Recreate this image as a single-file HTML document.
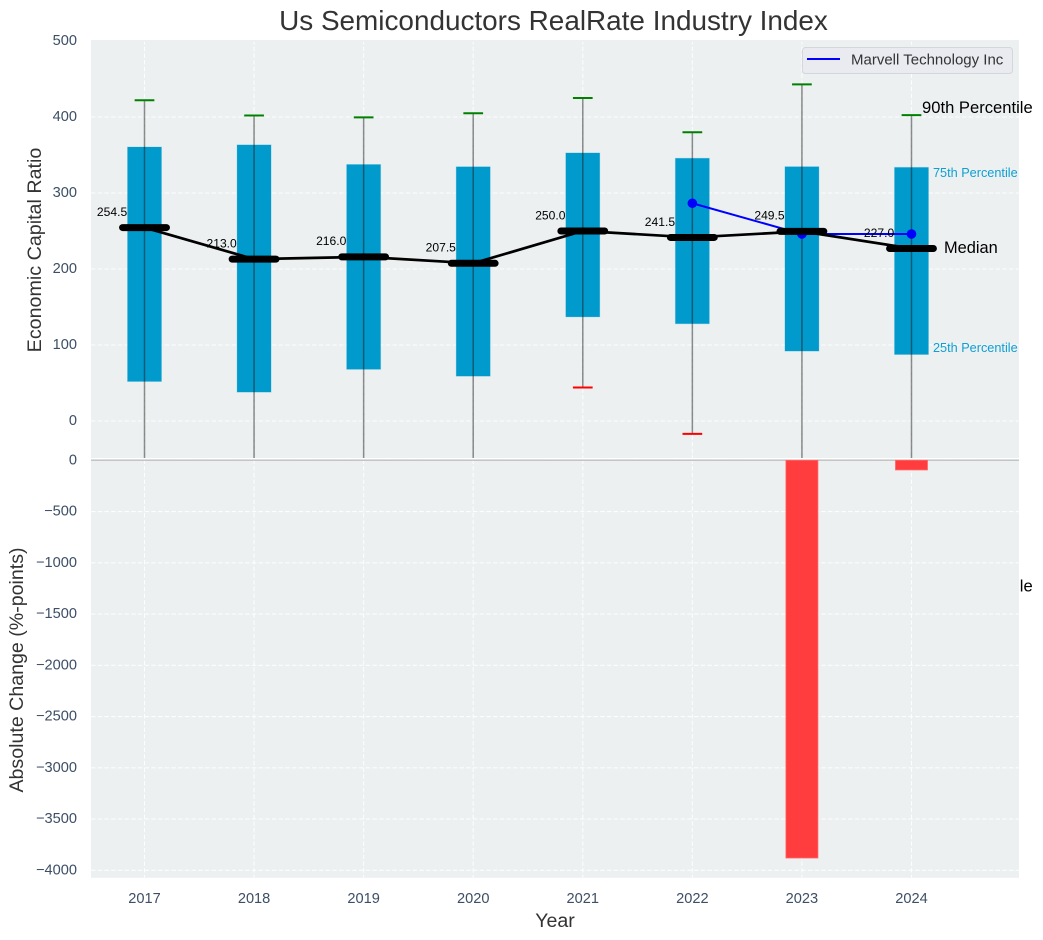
<!DOCTYPE html>
<html lang="en">
<head>
<meta charset="utf-8">
<title>Us Semiconductors RealRate Industry Index</title>
<style>
html,body{margin:0;padding:0;background:#fff;width:1043px;height:940px;overflow:hidden}
svg{display:block;font-family:"Liberation Sans",Arial,sans-serif}
</style>
</head>
<body>
<svg id="chart" xmlns="http://www.w3.org/2000/svg" width="1043" height="940" viewBox="0 0 1043 940">
  <defs>
    <clipPath id="top-clip"><rect x="91" y="40" width="928" height="418"></rect></clipPath>
    <clipPath id="top-grid-clip"><rect x="91" y="41.9" width="928" height="416.1"></rect></clipPath>
    <clipPath id="bottom-clip"><rect x="91" y="459.4" width="928" height="418.4"></rect></clipPath>
  </defs>
  <text x="553.5" y="30" text-anchor="middle" font-size="27.9" fill="#333333">Us Semiconductors RealRate Industry Index</text>
  <text x="922" y="586" dominant-baseline="central" font-size="16.6" fill="#000000">10th Percentile</text>
  <rect x="91" y="40" width="928" height="418" fill="#ecf0f1"></rect>
  <rect x="91" y="459.4" width="928" height="418.4" fill="#ecf0f1"></rect>
  <g id="top-grid" clip-path="url(#top-grid-clip)"></g>
  <g id="bottom-grid" clip-path="url(#bottom-clip)"></g>
  <line x1="91" x2="1019" y1="460.2" y2="460.2" stroke="#bcbebf" stroke-width="1.3"></line>
  <g id="bars" clip-path="url(#top-clip)"></g>
  <g id="whiskers" clip-path="url(#top-clip)"></g>
  <g id="company" clip-path="url(#top-clip)"></g>
  <g id="medians" clip-path="url(#top-clip)"></g>
  <g id="change" clip-path="url(#bottom-clip)"></g>
  <g id="value-labels"></g>
  <g id="axis-labels" font-size="14.6" fill="#3d4f66"></g>
  <text transform="translate(35 250) rotate(-90)" text-anchor="middle" dominant-baseline="central" font-size="19.7" fill="#333333">Economic Capital Ratio</text>
  <text transform="translate(17 670) rotate(-90)" text-anchor="middle" dominant-baseline="central" font-size="19.6" fill="#333333">Absolute Change (%-points)</text>
  <text x="555" y="921" text-anchor="middle" dominant-baseline="central" font-size="19.6" fill="#333333">Year</text>
  <g>
    <rect x="802.5" y="47.5" width="210" height="26" rx="3" fill="#e9ebf1" stroke="#d4d6da" stroke-width="1"></rect>
    <line x1="807" x2="840" y1="59" y2="59" stroke="#0000ff" stroke-width="2"></line>
    <text x="851" y="60" dominant-baseline="central" font-size="15" fill="#333333">Marvell Technology Inc</text>
  </g>
  <text x="922" y="107.5" dominant-baseline="central" font-size="16.6" fill="#000000">90th Percentile</text>
  <text x="944" y="248" dominant-baseline="central" font-size="16.4" fill="#000000">Median</text>
  <text x="933" y="173" dominant-baseline="central" font-size="12.7" fill="#0f9fd2">75th Percentile</text>
  <text x="933" y="348" dominant-baseline="central" font-size="12.7" fill="#0f9fd2">25th Percentile</text>
</svg>
<script>
const years = [2017, 2018, 2019, 2020, 2021, 2022, 2023, 2024];
const p90 = [422, 402, 399.5, 405, 425, 380, 443, 402.5];
const p75 = [360.5, 363.3, 337.5, 334.5, 352.7, 345.7, 334.6, 333.7];
const medianValues = [254.5, 213.0, 216.0, 207.5, 250.0, 241.5, 249.5, 227.0];
const p25 = [52, 38, 68, 59, 137, 128, 92, 87.5];
const p10 = [-70, -70, -70, -70, 44, -17, -70, -70];
const marvell = [null, null, null, null, null, 286.5, 246, 246];
const absoluteChange = [null, null, null, null, null, null, -3880, -94];
const topTicks = [500, 400, 300, 200, 100, 0];
const bottomTicks = [0, -500, -1000, -1500, -2000, -2500, -3000, -3500, -4000];

const NS = 'http://www.w3.org/2000/svg';
const xScale = function (year) { return 144.5 + (year - 2017) * 109.57; };
const xSpan = function (units) { return units * 109.57; };
const yTop = function (v) { return 421 - v * 0.76; };
const yBottom = function (v) { return 460.3 - v * 0.1025; };

function make(tag, parentId, attrs, text) {
  const el = document.createElementNS(NS, tag);
  Object.keys(attrs).forEach(function (k) { el.setAttribute(k, attrs[k]); });
  if (text !== undefined) { el.textContent = text; }
  document.getElementById(parentId).appendChild(el);
  return el;
}
const gridStyle = { stroke: '#ffffff', 'stroke-width': 1.1, 'stroke-dasharray': '4.5 2.2', 'stroke-opacity': 0.85 };

topTicks.forEach(function (t) {
  const grid = make('line', 'top-grid', Object.assign({ x1: 91, x2: 1019, y1: yTop(t), y2: yTop(t) }, gridStyle));
  
  
  const label = make('text', 'axis-labels', { x: 77, y: yTop(t), 'text-anchor': 'end', 'dominant-baseline': 'central' }, String(t));
  
  
});
bottomTicks.forEach(function (t) {
  const grid = make('line', 'bottom-grid', Object.assign({ x1: 91, x2: 1019, y1: yBottom(t), y2: yBottom(t) }, gridStyle));
  
  
  const label = make('text', 'axis-labels', { x: 77, y: yBottom(t), 'text-anchor': 'end', 'dominant-baseline': 'central' }, String(t).replace('-', '\u2212'));
  
  
});

years.forEach(function (year, i) {
  const x = xScale(year);
  const gridTop = make('line', 'top-grid', Object.assign({ x1: x, x2: x, y1: 40, y2: 458 }, gridStyle));
  
  
  const gridBottom = make('line', 'bottom-grid', Object.assign({ x1: x, x2: x, y1: 459.4, y2: 877.8 }, gridStyle));
  
  
  const tick = make('text', 'axis-labels', { x: x, y: 899, 'text-anchor': 'middle', 'dominant-baseline': 'central' }, String(year));
  
  

  const halfBox = xSpan(0.155);
  const box = make('rect', 'bars', {
    x: x - halfBox, y: yTop(p75[i]), width: halfBox * 2, height: yTop(p25[i]) - yTop(p75[i]),
    fill: '#009acd', stroke: '#009acd', 'stroke-opacity': 0.2, 'stroke-width': 1
  });
  
  

  const whisker = make('line', 'whiskers', { x1: x, x2: x, y1: yTop(p90[i]), y2: yTop(p10[i]), stroke: '#1b1b1b', 'stroke-opacity': 0.5, 'stroke-width': 1.5 });
  
  
  const capHigh = make('line', 'whiskers', { x1: x - xSpan(0.09), x2: x + xSpan(0.09), y1: yTop(p90[i]), y2: yTop(p90[i]), stroke: '#008000', 'stroke-width': 2 });
  
  
  const capLow = make('line', 'whiskers', { x1: x - xSpan(0.09), x2: x + xSpan(0.09), y1: yTop(p10[i]), y2: yTop(p10[i]), stroke: '#ff0000', 'stroke-width': 2 });
  
  

  if (absoluteChange[i] !== null) {
    const halfBar = xSpan(0.146);
    const bar = make('rect', 'change', {
      x: x - halfBar, y: yBottom(0), width: halfBar * 2, height: yBottom(absoluteChange[i]) - yBottom(0),
      fill: '#ff3d3f', stroke: '#ff6668', 'stroke-width': 0.8
    });
    
    
  }
});

const companyPoints = [];
years.forEach(function (year, i) {
  if (marvell[i] !== null) { companyPoints.push(xScale(year) + ',' + yTop(marvell[i])); }
});
const companyLine = make('polyline', 'company', { points: companyPoints.join(' '), fill: 'none', stroke: '#0000ff', 'stroke-width': 2 });


years.forEach(function (year, i) {
  if (marvell[i] !== null) {
    const dot = make('circle', 'company', { cx: xScale(year), cy: yTop(marvell[i]), r: 4.8, fill: '#0000ff' });
    
    
  }
});

const medianLine = make('polyline', 'medians', {
  points: years.map(function (year, i) { return xScale(year) + ',' + yTop(medianValues[i]); }).join(' '),
  fill: 'none', stroke: '#000000', 'stroke-width': 2.7
});


years.forEach(function (year, i) {
  const x = xScale(year);
  const y = yTop(medianValues[i]);
  const mark = make('line', 'medians', { x1: x - xSpan(0.2), x2: x + xSpan(0.2), y1: y, y2: y, stroke: '#000000', 'stroke-width': 7, 'stroke-linecap': 'round' });
  
  
  const value = make('text', 'value-labels', { x: x - 17.3, y: y - 15.7, 'text-anchor': 'end', 'dominant-baseline': 'central', 'font-size': 12.1, fill: '#000000' }, medianValues[i].toFixed(1));
  
  
});
</script>
</body>
</html>
